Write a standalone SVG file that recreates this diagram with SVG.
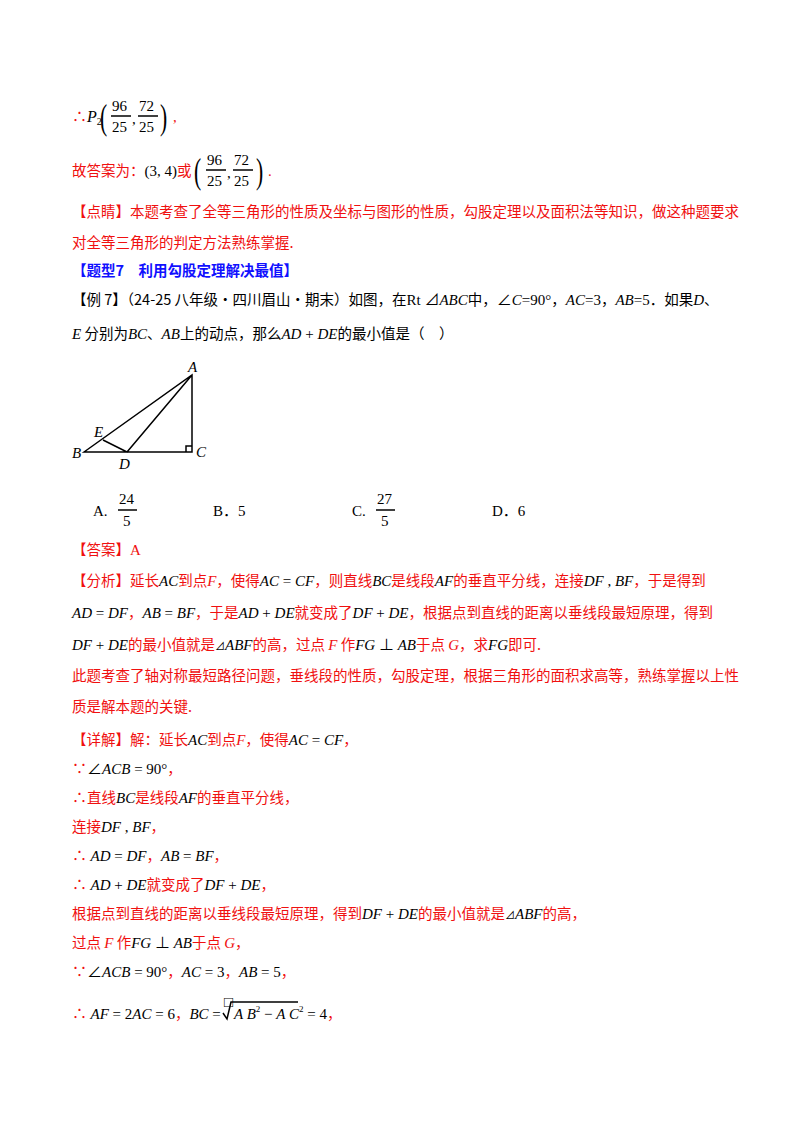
<svg xmlns="http://www.w3.org/2000/svg" width="800" height="1132" viewBox="0 0 800 1132">
<style>
text{font-family:"Liberation Serif","Noto Sans CJK SC",serif;font-size:15px;fill:#000}
.r{fill:#f01010}
.c{font-family:"Noto Sans CJK SC",sans-serif;font-size:14.5px}
.i{font-style:italic;fill:#000}
.b{fill:#1010ff;font-weight:bold;font-family:"Noto Sans CJK SC",sans-serif;font-size:14.5px}
.m{fill:#000}
.p{font-size:36px;font-weight:normal}
line,path{stroke:#000;stroke-width:1.5;fill:none}
.sq{stroke:#000;stroke-width:1.5;fill:none}
</style>
<rect width="800" height="1132" fill="#fff"/>
<g id="p2">
<text x="72" y="122"><tspan class="r">∴</tspan><tspan class="i" font-size="16">P</tspan><tspan font-size="10" dy="3">2</tspan></text>
<text x="100" y="129" class="p" transform="translate(100,0) scale(0.6,1) translate(-100,0)">(</text>
<text x="112" y="111" font-size="16">96</text><line x1="111" y1="116" x2="131" y2="116" stroke-width="1"/><text x="112" y="132" font-size="16">25</text>
<text x="132" y="124">,</text>
<text x="139" y="111" font-size="16">72</text><line x1="138" y1="116" x2="158" y2="116" stroke-width="1"/><text x="139" y="132" font-size="16">25</text>
<text x="160" y="129" class="p" transform="translate(160,0) scale(0.6,1) translate(-160,0)">)</text>
<text x="173" y="122" class="r">,</text>
</g>
<g id="ans">
<text x="72" y="176" class="r"><tspan class="c">故答案为：</tspan><tspan class="m">(3, 4)</tspan><tspan class="c">或</tspan></text>
<text x="194" y="183" class="p" transform="translate(194,0) scale(0.6,1) translate(-194,0)">(</text>
<text x="207" y="165" font-size="16">96</text><line x1="206" y1="170" x2="226" y2="170" stroke-width="1"/><text x="207" y="186" font-size="16">25</text>
<text x="227" y="178">,</text>
<text x="234" y="165" font-size="16">72</text><line x1="233" y1="170" x2="253" y2="170" stroke-width="1"/><text x="234" y="186" font-size="16">25</text>
<text x="256" y="183" class="p" transform="translate(256,0) scale(0.6,1) translate(-256,0)">)</text>
<text x="268" y="176" class="r">.</text>
</g>
<g id="dianjing">
<text x="72" y="217" class="r c">【点睛】本题考查了全等三角形的性质及坐标与图形的性质，勾股定理以及面积法等知识，做这种题要求</text>
<text x="72" y="248" class="r c">对全等三角形的判定方法熟练掌握.</text>
</g>
<text id="title" x="72" y="276" class="b">【题型7　利用勾股定理解决最值】</text>
<g id="q">
<text x="72" y="305"><tspan class="c">【例 7】（24-25 八年级·四川眉山·期末）如图，在</tspan>Rt ⊿<tspan class="i">ABC</tspan><tspan class="c">中，</tspan>∠<tspan class="i">C</tspan>=90°<tspan class="c">，</tspan><tspan class="i">AC</tspan>=3<tspan class="c">，</tspan><tspan class="i">AB</tspan>=5<tspan class="c">．如果</tspan><tspan class="i">D</tspan><tspan class="c">、</tspan></text>
<text x="72" y="339"><tspan class="i">E</tspan><tspan class="c"> 分别为</tspan><tspan class="i">BC</tspan><tspan class="c">、</tspan><tspan class="i">AB</tspan><tspan class="c">上的动点，那么</tspan><tspan class="i">AD</tspan> + <tspan class="i">DE</tspan><tspan class="c">的最小值是（　）</tspan></text>
</g>
<g id="figure">
<path d="M84,452 L192,375 L192,452 Z M103,440 L127,452 L192,375 M186,452 V446 H192"/>
<text x="188" y="372" class="i" font-size="14">A</text>
<text x="94" y="437" class="i" font-size="14">E</text>
<text x="72" y="458" class="i" font-size="14">B</text>
<text x="119" y="469" class="i" font-size="14">D</text>
<text x="196" y="457" class="i" font-size="14">C</text>
</g>
<g id="options">
<text x="93" y="516">A.</text>
<text x="119" y="504" font-size="16">24</text><line x1="118" y1="510" x2="137" y2="510" stroke-width="1"/><text x="123" y="526" font-size="16">5</text>
<text x="213" y="516">B．5</text>
<text x="352" y="516">C.</text>
<text x="377" y="504" font-size="16">27</text><line x1="376" y1="510" x2="395" y2="510" stroke-width="1"/><text x="381" y="526" font-size="16">5</text>
<text x="492" y="516">D．6</text>
</g>
<g id="analysis">
<text x="72" y="555" class="r"><tspan class="c">【答案】</tspan>A</text>
<text x="72" y="586" class="r"><tspan class="c">【分析】延长</tspan><tspan class="i">AC</tspan><tspan class="c">到点</tspan><tspan font-style="italic">F</tspan><tspan class="c">，使得</tspan><tspan class="i">AC</tspan><tspan class="m"> = </tspan><tspan class="i">CF</tspan><tspan class="c">，则直线</tspan><tspan class="i">BC</tspan><tspan class="c">是线段</tspan><tspan class="i">AF</tspan><tspan class="c">的垂直平分线，连接</tspan><tspan class="i">DF</tspan><tspan class="m"> , </tspan><tspan class="i">BF</tspan><tspan class="c">，于是得到</tspan></text>
<text x="72" y="618" class="r"><tspan class="i">AD</tspan><tspan class="m"> = </tspan><tspan class="i">DF</tspan><tspan class="c">，</tspan><tspan class="i">AB</tspan><tspan class="m"> = </tspan><tspan class="i">BF</tspan><tspan class="c">，于是</tspan><tspan class="i">AD</tspan><tspan class="m"> + </tspan><tspan class="i">DE</tspan><tspan class="c">就变成了</tspan><tspan class="i">DF</tspan><tspan class="m"> + </tspan><tspan class="i">DE</tspan><tspan class="c">，根据点到直线的距离以垂线段最短原理，得到</tspan></text>
<text x="72" y="650" class="r"><tspan class="i">DF</tspan><tspan class="m"> + </tspan><tspan class="i">DE</tspan><tspan class="c">的最小值就是</tspan><tspan class="m" font-size="10">⊿</tspan><tspan class="i">ABF</tspan><tspan class="c">的高，过点 </tspan><tspan font-style="italic">F</tspan><tspan class="c"> 作</tspan><tspan class="i">FG</tspan><tspan class="m"> ⊥ </tspan><tspan class="i">AB</tspan><tspan class="c">于点 </tspan><tspan font-style="italic">G</tspan><tspan class="c">，求</tspan><tspan class="i">FG</tspan><tspan class="c">即可.</tspan></text>
<text x="72" y="681" class="r c">此题考查了轴对称最短路径问题，垂线段的性质，勾股定理，根据三角形的面积求高等，熟练掌握以上性</text>
<text x="72" y="712" class="r c">质是解本题的关键.</text>
</g>
<g id="detail">
<text x="72" y="745" class="r"><tspan class="c">【详解】解：延长</tspan><tspan class="i">AC</tspan><tspan class="c">到点</tspan><tspan font-style="italic">F</tspan><tspan class="c">，使得</tspan><tspan class="i">AC</tspan><tspan class="m"> = </tspan><tspan class="i">CF</tspan><tspan class="c">，</tspan></text>
<text x="72" y="774" class="r">∵<tspan class="m">∠</tspan><tspan class="i">ACB</tspan><tspan class="m"> = 90°</tspan><tspan class="c">，</tspan></text>
<text x="72" y="803" class="r">∴<tspan class="c">直线</tspan><tspan class="i">BC</tspan><tspan class="c">是线段</tspan><tspan class="i">AF</tspan><tspan class="c">的垂直平分线，</tspan></text>
<text x="72" y="832" class="r"><tspan class="c">连接</tspan><tspan class="i">DF</tspan><tspan class="m"> , </tspan><tspan class="i">BF</tspan><tspan class="c">，</tspan></text>
<text x="72" y="861" class="r">∴<tspan class="i"> AD</tspan><tspan class="m"> = </tspan><tspan class="i">DF</tspan><tspan class="c">，</tspan><tspan class="i">AB</tspan><tspan class="m"> = </tspan><tspan class="i">BF</tspan><tspan class="c">，</tspan></text>
<text x="72" y="890" class="r">∴<tspan class="i"> AD</tspan><tspan class="m"> + </tspan><tspan class="i">DE</tspan><tspan class="c">就变成了</tspan><tspan class="i">DF</tspan><tspan class="m"> + </tspan><tspan class="i">DE</tspan><tspan class="c">，</tspan></text>
<text x="72" y="919" class="r"><tspan class="c">根据点到直线的距离以垂线段最短原理，得到</tspan><tspan class="i">DF</tspan><tspan class="m"> + </tspan><tspan class="i">DE</tspan><tspan class="c">的最小值就是</tspan><tspan class="m" font-size="10">⊿</tspan><tspan class="i">ABF</tspan><tspan class="c">的高，</tspan></text>
<text x="72" y="948" class="r"><tspan class="c">过点 </tspan><tspan font-style="italic">F</tspan><tspan class="c"> 作</tspan><tspan class="i">FG</tspan><tspan class="m"> ⊥ </tspan><tspan class="i">AB</tspan><tspan class="c">于点 </tspan><tspan font-style="italic">G</tspan><tspan class="c">，</tspan></text>
<text x="72" y="977" class="r">∵<tspan class="m">∠</tspan><tspan class="i">ACB</tspan><tspan class="m"> = 90°</tspan><tspan class="c">，</tspan><tspan class="i">AC</tspan><tspan class="m"> = 3</tspan><tspan class="c">，</tspan><tspan class="i">AB</tspan><tspan class="m"> = 5</tspan><tspan class="c">，</tspan></text>
<text x="72" y="1019" class="r">∴<tspan class="i"> AF</tspan><tspan class="m"> = 2</tspan><tspan class="i">AC</tspan><tspan class="m"> = 6</tspan><tspan class="c">，</tspan><tspan class="i">BC</tspan><tspan class="m"> =</tspan></text>
<text x="224" y="1007" font-size="7">□</text>
<path d="M223,1013 L227,1019 L231,1002 H298" stroke-width="1"/>
<text x="234" y="1019"><tspan class="i">A B</tspan><tspan font-size="9" dy="-7">2</tspan><tspan dy="7"> − </tspan><tspan class="i">A C</tspan><tspan font-size="9" dy="-7">2</tspan><tspan dy="7"> = 4</tspan><tspan class="r c">，</tspan></text>
</g>
</svg>
